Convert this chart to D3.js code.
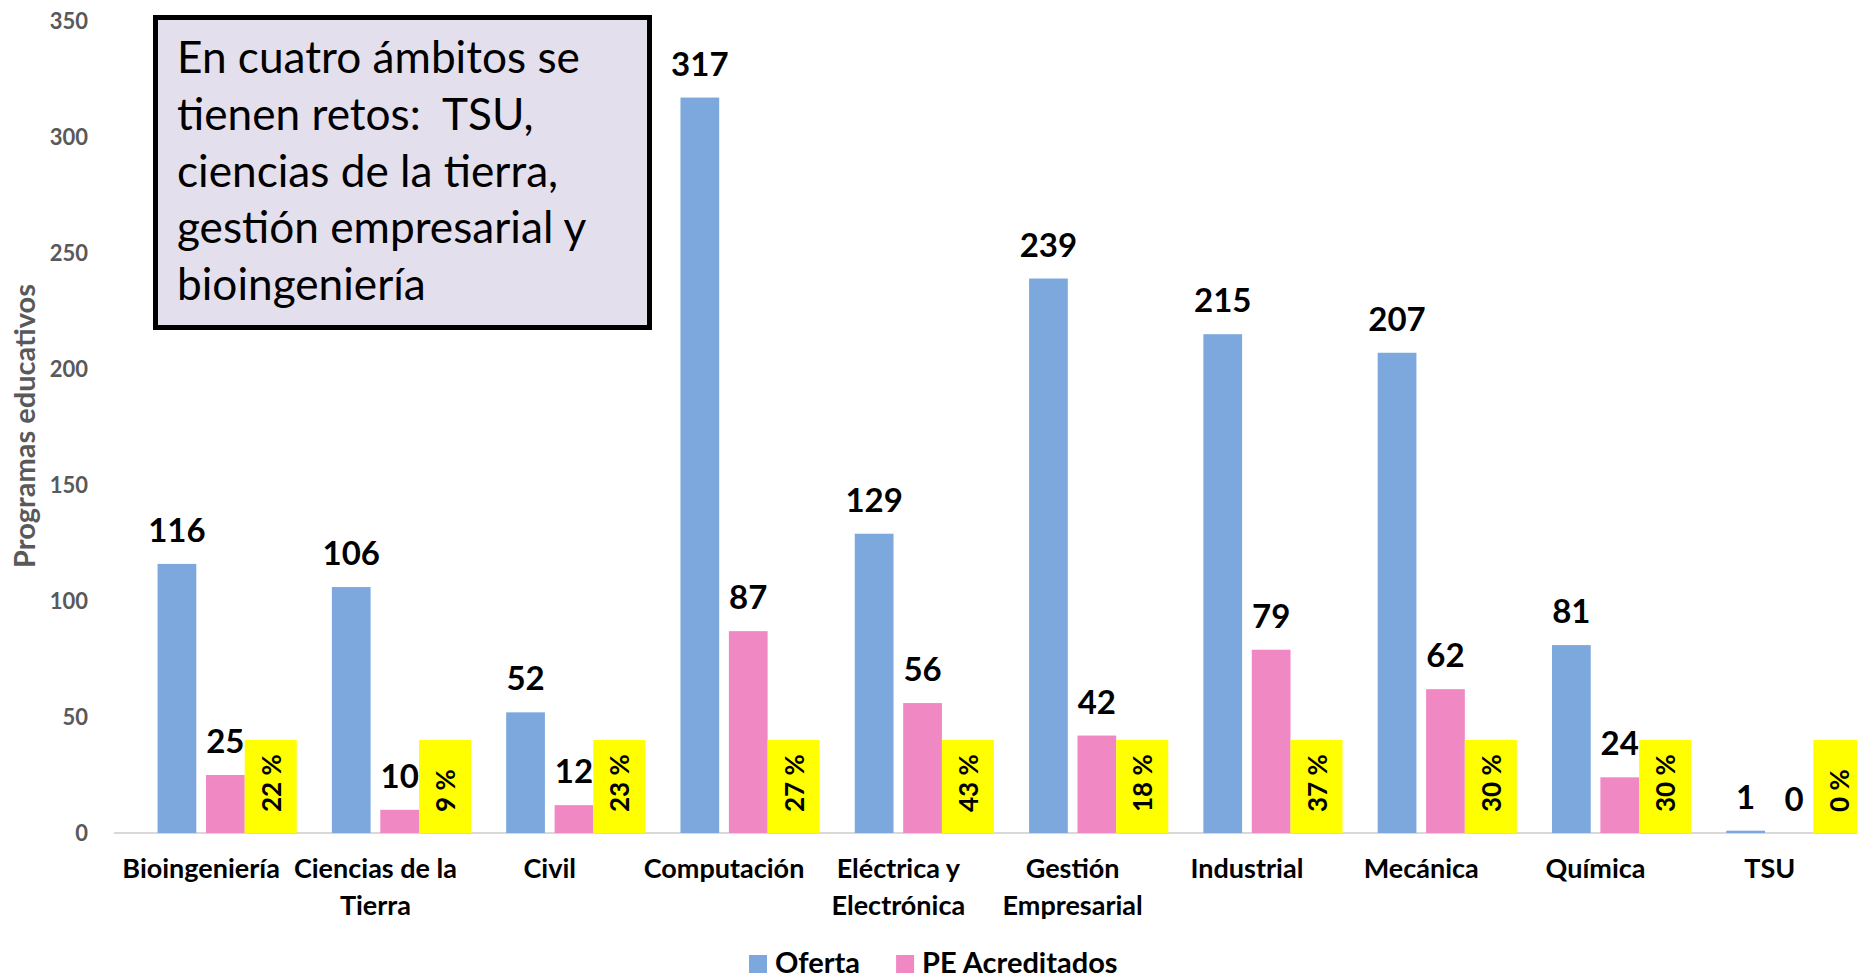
<!DOCTYPE html>
<html>
<head>
<meta charset="utf-8">
<script src="https://cdnjs.cloudflare.com/ajax/libs/d3/7.8.5/d3.min.js"></script>
<style>
  body { margin: 0; background: #fff; }
  svg text { font-family: Lato, "Open Sans", sans-serif; }
</style>
</head>
<body>
<script>
// datos
var categorias = ['Bioingeniería', 'Ciencias de la Tierra', 'Civil', 'Computación', 'Eléctrica y Electrónica',
                  'Gestión Empresarial', 'Industrial', 'Mecánica', 'Química', 'TSU'];
var oferta      = [116, 106, 52, 317, 129, 239, 215, 207, 81, 1];
var acreditados = [25, 10, 12, 87, 56, 42, 79, 62, 24, 0];
var series  = ['Oferta', 'PE Acreditados'];
var colores = ['#7CA8DD', '#F088C4'];
var yTicks  = [0, 50, 100, 150, 200, 250, 300, 350];
var nota = ['En cuatro ámbitos se', 'tienen retos:  TSU,', 'ciencias de la tierra,', 'gestión empresarial y', 'bioingeniería'];

var width = 1857, height = 980;

var filas = categorias.map(function (c, i) {
  return {
    cat: c,
    valores: [oferta[i], acreditados[i]],
    pct: Math.round(100 * acreditados[i] / oferta[i])
  };
});

var svg = d3.select('body').append('svg')
  .attr('width', width)
  .attr('height', height);

// escalas
var x0 = d3.scaleBand().domain(categorias).range([114, 1857]).padding(0);
var x1 = d3.scaleBand().domain(series)
  .range([x0.bandwidth() * 0.25, x0.bandwidth() * 0.75])
  .paddingInner(0.2);
var y = d3.scaleLinear().domain([0, 350]).range([833, 21]);
var color = d3.scaleOrdinal().domain(series).range(colores);

// eje y
svg.append('g')
  .attr('transform', 'translate(88,0)')
  .call(d3.axisLeft(y).tickValues(yTicks).tickSize(0).tickPadding(0))
  .call(function (g) { g.select('.domain').remove(); })
  .attr('font-family', null)
  .attr('font-size', 22)
  .attr('font-weight', 'bold')
  .selectAll('text')
  .attr('fill', '#595959');

svg.append('text')
  .attr('transform', 'translate(23,426) rotate(-90)')
  .attr('text-anchor', 'middle')
  .attr('dominant-baseline', 'central')
  .style('font-size', '29px')
  .style('font-weight', 'bold')
  .style('fill', '#595959')
  .text('Programas educativos');

// linea base
svg.append('line')
  .attr('x1', 114).attr('x2', width)
  .attr('y1', y(0)).attr('y2', y(0))
  .style('stroke', '#D9D9D9')
  .style('stroke-width', 2);

// barras
var grupo = svg.selectAll('.cat')
  .data(filas)
  .enter()
  .append('g')
  .attr('class', 'cat')
  .attr('transform', function (d) { return 'translate(' + x0(d.cat) + ',0)'; });

var pares = function (d) {
  return series.map(function (s, i) { return { serie: s, valor: d.valores[i] }; });
};

grupo.selectAll('rect.bar')
  .data(pares)
  .enter()
  .append('rect')
  .attr('class', 'bar')
  .attr('x', function (d) { return x1(d.serie); })
  .attr('y', function (d) { return y(d.valor); })
  .attr('width', x1.bandwidth())
  .attr('height', function (d) { return y(0) - y(d.valor); })
  .style('fill', function (d) { return color(d.serie); });

grupo.selectAll('text.valor')
  .data(pares)
  .enter()
  .append('text')
  .attr('class', 'valor')
  .attr('x', function (d) { return x1(d.serie) + x1.bandwidth() / 2; })
  .attr('y', function (d) { return y(d.valor) - 22; })
  .attr('text-anchor', 'middle')
  .style('font-size', '33px')
  .style('font-weight', 'bold')
  .style('fill', '#000')
  .text(function (d) { return d.valor; });

// cajas amarillas con el porcentaje
var xPct = x1('PE Acreditados') + x1.bandwidth();
grupo.append('rect')
  .attr('x', xPct)
  .attr('y', y(0) - 93)
  .attr('width', 52)
  .attr('height', 93)
  .style('fill', '#FFFF00');

grupo.append('text')
  .attr('transform', 'translate(' + (xPct + 26) + ',' + (y(0) - 21) + ') rotate(-90)')
  .attr('dominant-baseline', 'central')
  .style('font-size', '26px')
  .style('font-weight', 'bold')
  .style('fill', '#000')
  .text(function (d) { return d.pct + ' %'; });

// etiquetas de categoria (con ajuste de linea)
svg.selectAll('.catlabel')
  .data(categorias)
  .enter()
  .append('text')
  .attr('class', 'catlabel')
  .attr('x', function (d) { return x0(d) + x0.bandwidth() / 2; })
  .attr('y', 878)
  .attr('text-anchor', 'middle')
  .style('font-size', '27px')
  .style('font-weight', 'bold')
  .style('fill', '#000')
  .each(function (d) {
    var t = d3.select(this);
    var palabras = d.split(' ');
    var linea = [];
    var tspan = t.append('tspan').attr('x', t.attr('x')).attr('dy', 0);
    palabras.forEach(function (p) {
      linea.push(p);
      tspan.text(linea.join(' '));
      if (tspan.node().getComputedTextLength() > 172 && linea.length > 1) {
        linea.pop();
        tspan.text(linea.join(' '));
        linea = [p];
        tspan = t.append('tspan').attr('x', t.attr('x')).attr('dy', 37).text(p);
      }
    });
  });

// leyenda
var lx = 749;
series.forEach(function (s) {
  svg.append('rect')
    .attr('x', lx).attr('y', 955)
    .attr('width', 18).attr('height', 18)
    .style('fill', color(s));
  var lt = svg.append('text')
    .attr('x', lx + 26).attr('y', 973)
    .style('font-size', '29px')
    .style('font-weight', 'bold')
    .style('fill', '#000')
    .text(s);
  lx += 26 + lt.node().getComputedTextLength() + 36;
});

// recuadro de nota
var notaG = svg.append('g');
notaG.append('rect')
  .attr('x', 155.5).attr('y', 17.5)
  .attr('width', 494).attr('height', 310)
  .style('fill', '#E4DFEC')
  .style('stroke', '#000')
  .style('stroke-width', 5);

var notaTxt = notaG.selectAll('text')
  .data(nota)
  .enter()
  .append('text')
  .attr('x', 177)
  .attr('y', function (d, i) { return 73 + i * 56.75; })
  .attr('xml:space', 'preserve')
  .style('white-space', 'pre')
  .style('font-size', '40px')
  .style('fill', '#000')
  .text(function (d) { return d; });

// ajustar tamaño a la anchura original de la primera linea
var ancho0 = notaTxt.node().getComputedTextLength();
notaTxt.style('font-size', (40 * 403 / ancho0) + 'px');
</script>
</body>
</html>
